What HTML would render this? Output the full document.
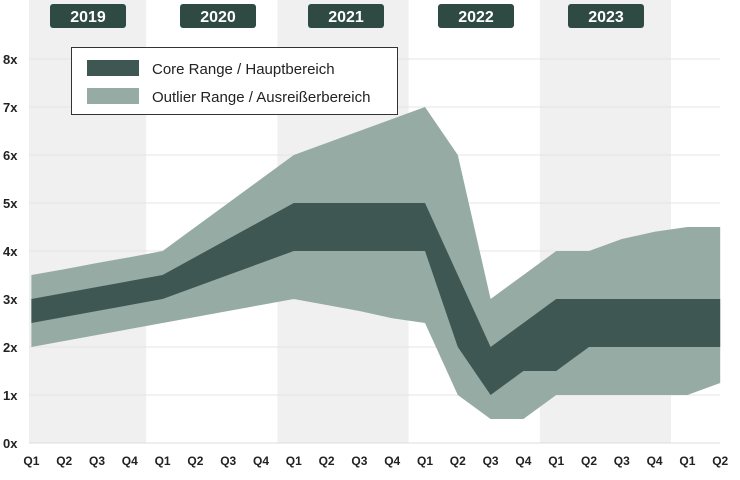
<!DOCTYPE html>
<html><head><meta charset="utf-8"><style>
body{margin:0;background:#fff;width:740px;height:475px;overflow:hidden}
svg text{font-family:"Liberation Sans",Arial,sans-serif}
</style></head><body>
<svg id="chart" width="740" height="475" viewBox="0 0 740 475" xmlns="http://www.w3.org/2000/svg"></svg>
<script>
const quarters=["Q1","Q2","Q3","Q4","Q1","Q2","Q3","Q4","Q1","Q2","Q3","Q4","Q1","Q2","Q3","Q4","Q1","Q2","Q3","Q4","Q1","Q2"];
const years=["2019","2020","2021","2022","2023"];
const outerHigh=[3.5,3.62,3.75,3.87,4.0,4.5,5.0,5.5,6.0,6.25,6.5,6.75,7.0,6.0,3.0,3.5,4.0,4.0,4.25,4.4,4.5,4.5];
const outerLow=[2.0,2.125,2.25,2.375,2.5,2.625,2.75,2.875,3.0,2.875,2.75,2.6,2.5,1.0,0.5,0.5,1.0,1.0,1.0,1.0,1.0,1.25];
const coreHigh=[3.0,3.125,3.25,3.375,3.5,3.875,4.25,4.625,5.0,5.0,5.0,5.0,5.0,3.5,2.0,2.5,3.0,3.0,3.0,3.0,3.0,3.0];
const coreLow=[2.5,2.625,2.75,2.875,3.0,3.25,3.5,3.75,4.0,4.0,4.0,4.0,4.0,2.0,1.0,1.5,1.5,2.0,2.0,2.0,2.0,2.0];
const yTicks=[0,1,2,3,4,5,6,7,8];

const svg=document.getElementById('chart');
const NS="http://www.w3.org/2000/svg";
const X0=31.4,STEP=32.8,Y0=443,UNIT=48;
const x=i=>X0+i*STEP;
const y=v=>Y0-v*UNIT;
function el(tag,attrs,parent){const e=document.createElementNS(NS,tag);for(const k in attrs)e.setAttribute(k,attrs[k]);(parent||svg).appendChild(e);return e;}

// year bands
years.forEach((yr,k)=>{
  if(k%2===0){
    const x1=Math.max(29,x(k*4)-STEP/2),x2=x(k*4+3)+STEP/2;
    const r=el('rect',{x:x1,y:0,width:x2-x1,height:Y0,fill:'#f0f0f0'});
    
    
  }
});
// gridlines
yTicks.forEach(v=>{
  const l=el('line',{x1:29,x2:720,y1:y(v),y2:y(v),stroke:v===0?'#dcdcdc':'#e4e4e4','stroke-width':1});
  
  
  const t=el('text',{x:3,y:y(v)+5,'font-size':13,'font-weight':'bold',fill:'#222'});
  t.textContent=v+'x';
  
  
});
function band(hi,lo,fill,name){
  let d='M'+hi.map((v,i)=>x(i)+','+y(v)).join(' L');
  for(let i=lo.length-1;i>=0;i--)d+=' L'+x(i)+','+y(lo[i]);
  const p=el('path',{d:d+'Z',fill:fill});
  
  
}
band(outerHigh,outerLow,'#97aba5','outlier-range-area');
band(coreHigh,coreLow,'#3e5752','core-range-area');
// x labels
quarters.forEach((q,i)=>{
  const t=el('text',{x:x(i),y:465,'font-size':12,'font-weight':'bold','text-anchor':'middle',fill:'#222'});
  t.textContent=q;
  
  
});
// year badges
const badgeCx=[88,218,346,476,606];
years.forEach((yr,k)=>{
  const g=el('g',{});
  
  
  el('rect',{x:badgeCx[k]-38,y:4,width:76,height:24,rx:3,fill:'#2e4a43'},g);
  const t=el('text',{x:badgeCx[k],y:22,'font-size':16,'font-weight':'bold','text-anchor':'middle',fill:'#fff'},g);
  t.textContent=yr;
});
// legend
const lg=el('g',{});


el('rect',{x:71.5,y:47.5,width:326,height:67,fill:'#fff',stroke:'#333','stroke-width':1},lg);
const e1=el('g',{},lg);


el('rect',{x:87,y:60,width:52,height:16,fill:'#3e5752'},e1);
const t1=el('text',{x:152,y:74,'font-size':15,fill:'#222'},e1);t1.textContent='Core Range / Hauptbereich';
const e2=el('g',{},lg);


el('rect',{x:87,y:88,width:52,height:16,fill:'#97aba5'},e2);
const t2=el('text',{x:152,y:102,'font-size':15,fill:'#222'},e2);t2.textContent='Outlier Range / Ausreißerbereich';
</script>
</body></html>
